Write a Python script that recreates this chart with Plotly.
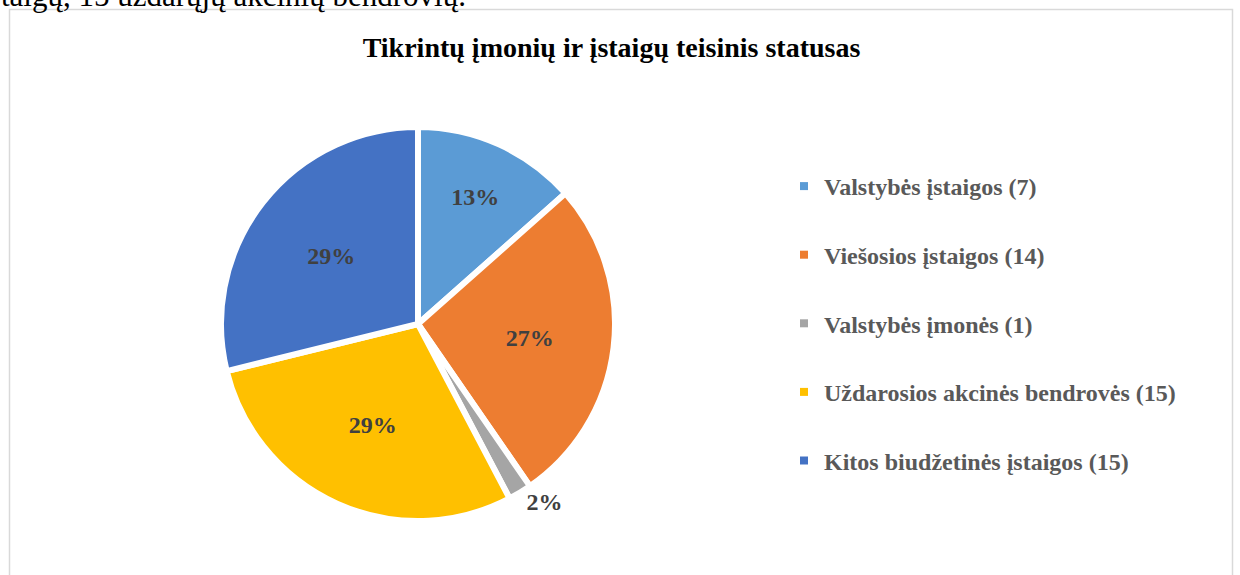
import plotly.graph_objects as go

# ---- data ----
categories = [
    "Valstybės įstaigos (7)",
    "Viešosios įstaigos (14)",
    "Valstybės įmonės (1)",
    "Uždarosios akcinės bendrovės (15)",
    "Kitos biudžetinės įstaigos (15)",
]
counts = [7, 14, 1, 15, 15]
colors = ["#5B9BD5", "#ED7D31", "#A5A5A5", "#FFC000", "#4472C4"]
label_positions = ["inside", "inside", "outside", "inside", "inside"]
title_text = "Tikrintų įmonių ir įstaigų teisinis statusas"
header_text = "taigų, 15 uždarųjų akcinių bendrovių."

W, H = 1240, 575
SERIF = "Liberation Serif, Times New Roman, serif"

fig = go.Figure()

# pie geometry in pixels -> paper
cx, cy, r = 418, 324, 197
fig.add_trace(go.Pie(
    labels=categories,
    values=counts,
    sort=False,
    direction="clockwise",
    rotation=0,
    marker=dict(colors=colors, line=dict(color="white", width=6)),
    texttemplate="%{percent:.0%}",
    textposition=label_positions,
    insidetextorientation="horizontal",
    textfont=dict(family=SERIF, size=24, color="#404040", weight="bold"),
    showlegend=False,
    hoverinfo="label+value+percent",
    domain=dict(x=[(cx - r) / W, (cx + r) / W], y=[1 - (cy + r) / H, 1 - (cy - r) / H]),
))

# legend entries (one group each, to get the wide spacing)
for i, (cat, col) in enumerate(zip(categories, colors)):
    fig.add_trace(go.Scatter(
        x=[None], y=[None], mode="markers",
        marker=dict(symbol="square", size=8, color=col),
        name=cat, legendgroup=f"g{i}", showlegend=True, hoverinfo="skip",
    ))

fig.update_layout(
    width=W, height=H,
    margin=dict(l=0, r=0, t=0, b=0),
    paper_bgcolor="white",
    plot_bgcolor="white",
    xaxis=dict(visible=False),
    yaxis=dict(visible=False),
    title=dict(
        text=f"<b>{title_text}</b>",
        x=611.5 / W, xanchor="center",
        y=1 - 47 / H, yanchor="middle",
        font=dict(family=SERIF, size=28, color="#000000"),
    ),
    legend=dict(
        x=784 / W, xanchor="left",
        y=1 - 164 / H, yanchor="top",
        font=dict(family=SERIF, size=24, color="#595959", weight="bold"),
        tracegroupgap=34.4,
        bgcolor="rgba(0,0,0,0)",
        itemclick=False, itemdoubleclick=False,
    ),
    shapes=[dict(
        type="rect", xref="paper", yref="paper",
        x0=9.5 / W, x1=1232.5 / W, y0=-0.05, y1=1 - 9.5 / H,
        line=dict(color="#D9D9D9", width=1.5), fillcolor="rgba(0,0,0,0)",
        layer="below",
    )],
    annotations=[dict(
        text=header_text, xref="paper", yref="paper",
        x=-0.001, xanchor="left", y=1 + 4 / H, yanchor="middle",
        showarrow=False, font=dict(family=SERIF, size=31, color="#000000"),
    )],
)

fig.write_html(
    "out.html",
    config={"displayModeBar": False},
    post_script="document.body.style.margin='0';document.body.style.overflow='hidden';",
)
